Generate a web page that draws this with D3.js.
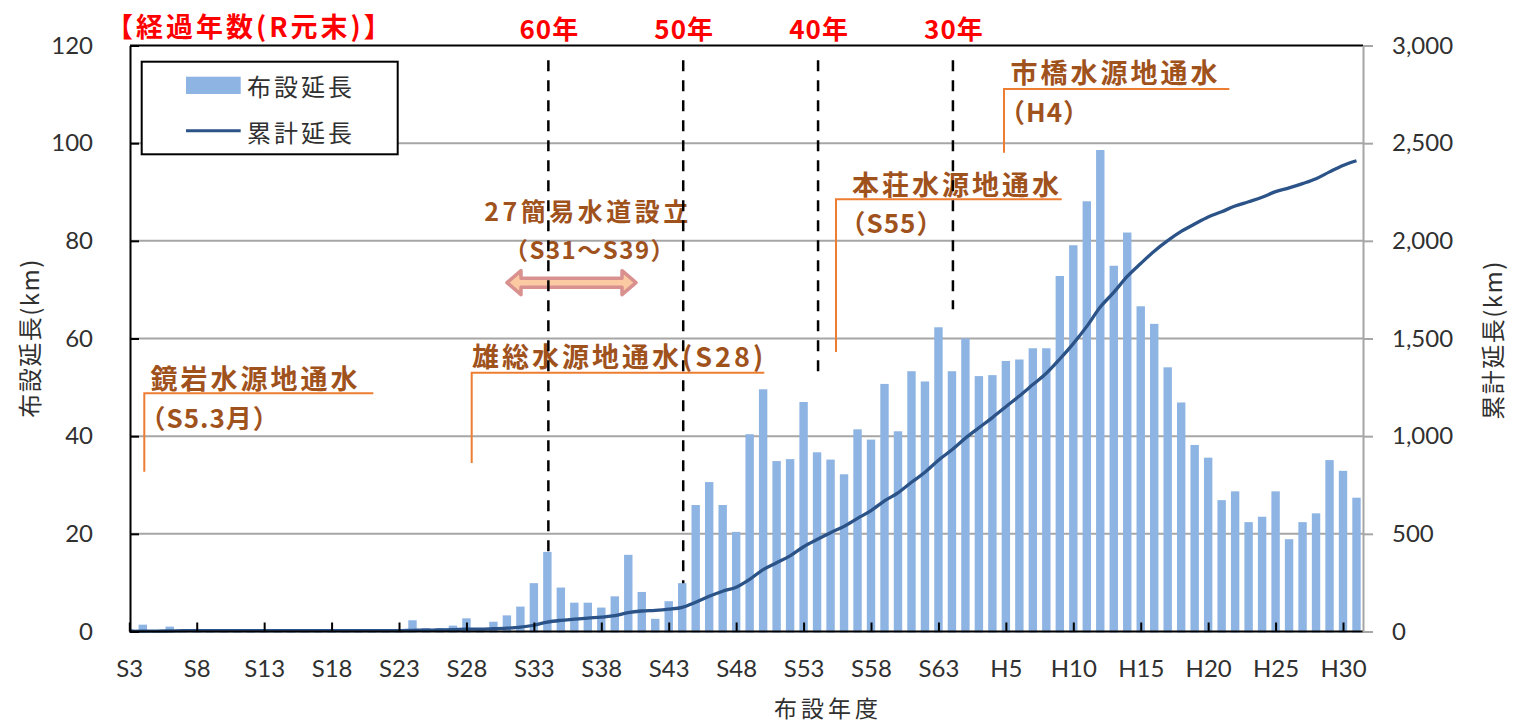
<!DOCTYPE html>
<html lang="ja">
<head>
<meta charset="UTF-8">
<title>布設延長と累計延長</title>
<script src="https://cdn.jsdelivr.net/npm/d3@7"></script>
<style>
    body{
        margin: 0;
        background: #fff;
    }
    .num{
        font-family: Lato, "Open Sans", sans-serif;
        font-size: 24px;
        fill: #303030;
    }
    .jp{
        font-family: "Noto Sans CJK JP", sans-serif;
    }
    .callout{
        font-family: "Noto Sans CJK JP", sans-serif;
        font-weight: bold;
        fill: #a0521d;
    }
    .red{
        font-family: "Noto Sans CJK JP", sans-serif;
        font-weight: bold;
        fill: #ff0000;
    }
</style>
</head>
<body>
<svg id="chart" width="1516" height="724"></svg>
<script>
    // fiscal years S3..S63, H1..H31
    let years = d3.range(3, 64).map(n => "S" + n).concat(d3.range(1, 32).map(n => "H" + n))

    // 布設延長 (km) per year
    let laid = [0.5, 1.4, 0.3, 1.0, 0.3, 0, 0, 0, 0, 0,
        0, 0, 0, 0, 0, 0, 0, 0, 0, 0.2,
        0.2, 2.3, 0.7, 0.7, 1.2, 2.7, 0.3, 2.0, 3.3, 5.1,
        9.9, 16.3, 9.0, 5.9, 5.9, 4.9, 7.2, 15.7, 8.1, 2.6,
        6.2, 9.9, 25.9, 30.6, 25.9, 20.4, 40.4, 49.6, 34.9, 35.3,
        47.0, 36.7, 35.2, 32.2, 41.4, 39.3, 50.7, 41.0, 53.3, 51.2,
        62.3, 53.3, 60.0, 52.3, 52.5, 55.4, 55.7, 58.0, 58.0, 72.8,
        79.1, 88.1, 98.6, 74.9, 81.7, 66.6, 63.0, 54.1, 46.9, 38.2,
        35.6, 26.9, 28.7, 22.4, 23.5, 28.7, 18.9, 22.4, 24.2, 35.1,
        32.9, 27.4]

    // 累計延長 (km)
    let total = [1, 2, 2, 3, 4, 4, 4, 4, 4, 4,
        4, 4, 4, 4, 4, 4, 4, 4, 4, 4,
        4, 6, 7, 8, 9, 12, 12, 14, 17, 22,
        32, 48, 57, 63, 69, 74, 81, 97, 105, 108,
        114, 124, 150, 180, 206, 227, 267, 317, 352, 387,
        434, 471, 506, 538, 579, 619, 669, 710, 764, 815,
        877, 930, 990, 1043, 1095, 1151, 1206, 1264, 1322, 1395,
        1474, 1562, 1661, 1736, 1818, 1884, 1947, 2001, 2048, 2086,
        2122, 2149, 2178, 2200, 2223, 2252, 2271, 2293, 2318, 2353,
        2386, 2410]

    let tickYears = ["S3", "S8", "S13", "S18", "S23", "S28", "S33", "S38", "S43", "S48",
        "S53", "S58", "S63", "H5", "H10", "H15", "H20", "H25", "H30"]
    let leftTicks = [0, 20, 40, 60, 80, 100, 120]
    let rightTicks = [0, 500, 1000, 1500, 2000, 2500, 3000]

    // elapsed years at end of R1
    let ageYears = ["S34", "S44", "S54", "H1"]
    let ageLabels = ["60年", "50年", "40年", "30年"]
    let ageEnds = [16.3, 9.9, 51.5, 66]

    let seriesNames = ["布設延長", "累計延長"]

    let barColor = "#8eb4e3"
    let lineColor = "#2b5388"
    let calloutLine = "#ed7d31"

    let svg = d3.select("#chart")
    let plot = {left: 130, right: 1363, top: 45.5, bottom: 631.5}

    let x = d3.scalePoint().domain(years).range([129.3, 1356.5])
    let y = d3.scaleLinear().domain([0, 120]).range([plot.bottom, plot.top])
    let y2 = d3.scaleLinear().domain([0, 3000]).range([plot.bottom, plot.top])
    let barW = 8.4

    svg.append("rect").attr("width", 1516).attr("height", 724).attr("fill", "#fff")

    svg.append("defs").append("clipPath").attr("id", "plotClip")
        .append("rect")
        .attr("x", plot.left).attr("y", 0)
        .attr("width", plot.right - plot.left).attr("height", plot.bottom + 5)

    // gridlines
    svg.append("g").selectAll("line")
        .data(leftTicks.filter(d => d > 0 && d < 120))
        .enter().append("line")
        .attr("x1", plot.left).attr("x2", plot.right)
        .attr("y1", d => y(d)).attr("y2", d => y(d))
        .attr("stroke", "#a6a6a6").attr("stroke-width", 2)

    // bars
    svg.append("g").attr("clip-path", "url(#plotClip)")
        .selectAll("rect")
        .data(years)
        .enter().append("rect")
        .attr("x", (d, i) => x(d) - barW / 2)
        .attr("y", (d, i) => y(laid[i]))
        .attr("width", barW)
        .attr("height", (d, i) => y(0) - y(laid[i]) + 1)
        .attr("fill", barColor)

    // cumulative line
    let lineGen = d3.line()
        .x((d, i) => x(years[i]))
        .y(d => y2(d))
        .curve(d3.curveMonotoneX)
    svg.append("path")
        .datum(total)
        .attr("d", lineGen)
        .attr("fill", "none")
        .attr("stroke", lineColor)
        .attr("stroke-width", 3.3)
        .attr("stroke-linejoin", "round")

    // top border
    svg.append("line")
        .attr("x1", plot.left).attr("x2", plot.right)
        .attr("y1", plot.top).attr("y2", plot.top)
        .attr("stroke", "#000").attr("stroke-width", 2)

    // axes
    let xAxis = d3.axisBottom(x).tickValues(tickYears)
        .tickSizeInner(-9).tickSizeOuter(0).tickPadding(28)
    let gx = svg.append("g").attr("transform", `translate(0,${plot.bottom})`).call(xAxis)
    gx.select(".domain").attr("d", `M${plot.left},0H${plot.right}`)
        .attr("stroke", "#000").attr("stroke-width", 2)
    gx.selectAll(".tick line").attr("stroke", "#000").attr("stroke-width", 2)
    gx.selectAll("text").attr("class", "num").attr("font-size", null).attr("font-family", null)

    let yAxis = d3.axisLeft(y).tickValues(leftTicks)
        .tickSizeInner(-9).tickSizeOuter(0).tickPadding(37)
    let gy = svg.append("g").attr("transform", `translate(${plot.left},0)`).call(yAxis)
    gy.select(".domain").attr("stroke", "#000").attr("stroke-width", 2)
    gy.selectAll(".tick line").attr("stroke", "#000").attr("stroke-width", 2)
    gy.selectAll("text").attr("class", "num").attr("font-size", null).attr("font-family", null)

    let y2Axis = d3.axisRight(y2).tickValues(rightTicks).tickFormat(d3.format(","))
        .tickSizeInner(10).tickSizeOuter(0).tickPadding(19)
    let gy2 = svg.append("g").attr("transform", `translate(${plot.right},0)`).call(y2Axis)
    gy2.select(".domain").attr("stroke", "#a6a6a6").attr("stroke-width", 2)
    gy2.selectAll(".tick line").attr("stroke", "#a6a6a6").attr("stroke-width", 2)
    gy2.selectAll("text").attr("class", "num").attr("font-size", null).attr("font-family", null)

    // axis titles
    svg.append("text").attr("class", "jp")
        .attr("transform", "translate(28,338) rotate(-90)")
        .attr("text-anchor", "middle").attr("dominant-baseline", "central")
        .attr("font-size", 24).attr("letter-spacing", 1.5).attr("fill", "#303030")
        .text("布設延長(km)")
    svg.append("text").attr("class", "jp")
        .attr("transform", "translate(1491,340) rotate(-90)")
        .attr("text-anchor", "middle").attr("dominant-baseline", "central")
        .attr("font-size", 24).attr("letter-spacing", 1.5).attr("fill", "#303030")
        .text("累計延長(km)")
    svg.append("text").attr("class", "jp")
        .attr("x", 828).attr("y", 707)
        .attr("text-anchor", "middle").attr("dominant-baseline", "central")
        .attr("font-size", 23).attr("letter-spacing", 4).attr("fill", "#303030")
        .text("布設年度")

    // callouts (orange leader lines + brown text)
    function leader(x0, yTop, yBottom, x1) {
        svg.append("path")
            .attr("d", `M${x0},${yBottom}V${yTop}H${x1}`)
            .attr("fill", "none").attr("stroke", calloutLine).attr("stroke-width", 2)
    }
    function label(txt, tx, ty, size, spacing, anchor) {
        svg.append("text").attr("class", "callout")
            .attr("x", tx).attr("y", ty)
            .attr("font-size", size).attr("letter-spacing", spacing)
            .attr("text-anchor", anchor || "start").attr("dominant-baseline", "central")
            .text(txt)
    }

    leader(144.3, 393.3, 471.7, 373.3)
    label("鏡岩水源地通水", 150.5, 377, 27, 3)
    label("（S5.3月）", 139.5, 416.7, 26, 1)

    leader(471.7, 372.7, 463, 764.3)
    label("雄総水源地通水(S28)", 472, 355, 27, 3)

    leader(836, 199.3, 352, 1061.7)
    label("本荘水源地通水", 852, 183, 27, 3)
    label("（S55）", 839.5, 221.7, 26, 1)

    leader(1004, 89, 152.7, 1229.3)
    label("市橋水源地通水", 1010.5, 71.7, 27, 3)
    label("（H4）", 999, 110, 26, 1)

    label("27簡易水道設立", 588, 210, 25, 3.5, "middle")
    label("（S31～S39）", 590, 248, 24, 1.5, "middle")

    // double arrow S31-S39
    let ay = 282.7, ax0 = 507, ax1 = 636, head = 14, hh = 12, sh = 4.5
    svg.append("path")
        .attr("d", `M${ax0},${ay}L${ax0 + head},${ay - hh}V${ay - sh}H${ax1 - head}V${ay - hh}` +
            `L${ax1},${ay}L${ax1 - head},${ay + hh}V${ay + sh}H${ax0 + head}V${ay + hh}Z`)
        .attr("fill", "#fbc9a2").attr("stroke", "#d9918f").attr("stroke-width", 3.5)
        .attr("stroke-linejoin", "round")

    // elapsed-years dashed lines
    svg.append("g").selectAll("line")
        .data(ageYears)
        .enter().append("line")
        .attr("x1", d => x(d) + 1).attr("x2", d => x(d) + 1)
        .attr("y1", y(117)).attr("y2", (d, i) => y(ageEnds[i]))
        .attr("stroke", "#000").attr("stroke-width", 2.5)
        .attr("stroke-dasharray", "11,9")

    svg.append("g").selectAll("text")
        .data(ageYears)
        .enter().append("text")
        .attr("class", "red")
        .attr("x", d => x(d) + 2).attr("y", 27)
        .attr("text-anchor", "middle").attr("dominant-baseline", "central")
        .attr("font-size", 26).attr("letter-spacing", 1)
        .text((d, i) => ageLabels[i])

    svg.append("text").attr("class", "red")
        .attr("x", 106).attr("y", 25)
        .attr("dominant-baseline", "central")
        .attr("font-size", 27).attr("letter-spacing", 3)
        .text("【経過年数(R元末)】")

    // legend
    let lg = svg.append("g")
    lg.append("rect")
        .attr("x", 141.7).attr("y", 61.7).attr("width", 256).attr("height", 92.6)
        .attr("fill", "#fff").attr("stroke", "#000").attr("stroke-width", 2)
    lg.append("rect")
        .attr("x", 186).attr("y", 76.7).attr("width", 54.7).attr("height", 17.3)
        .attr("fill", barColor)
    lg.append("line")
        .attr("x1", 186).attr("x2", 240.7).attr("y1", 130.7).attr("y2", 130.7)
        .attr("stroke", lineColor).attr("stroke-width", 3)
    lg.selectAll("text.leg")
        .data(seriesNames)
        .enter().append("text")
        .attr("class", "jp")
        .attr("x", 247).attr("y", (d, i) => i === 0 ? 85 : 131)
        .attr("dominant-baseline", "central")
        .attr("font-size", 24).attr("letter-spacing", 3).attr("fill", "#303030")
        .text(d => d)
</script>
</body>
</html>
